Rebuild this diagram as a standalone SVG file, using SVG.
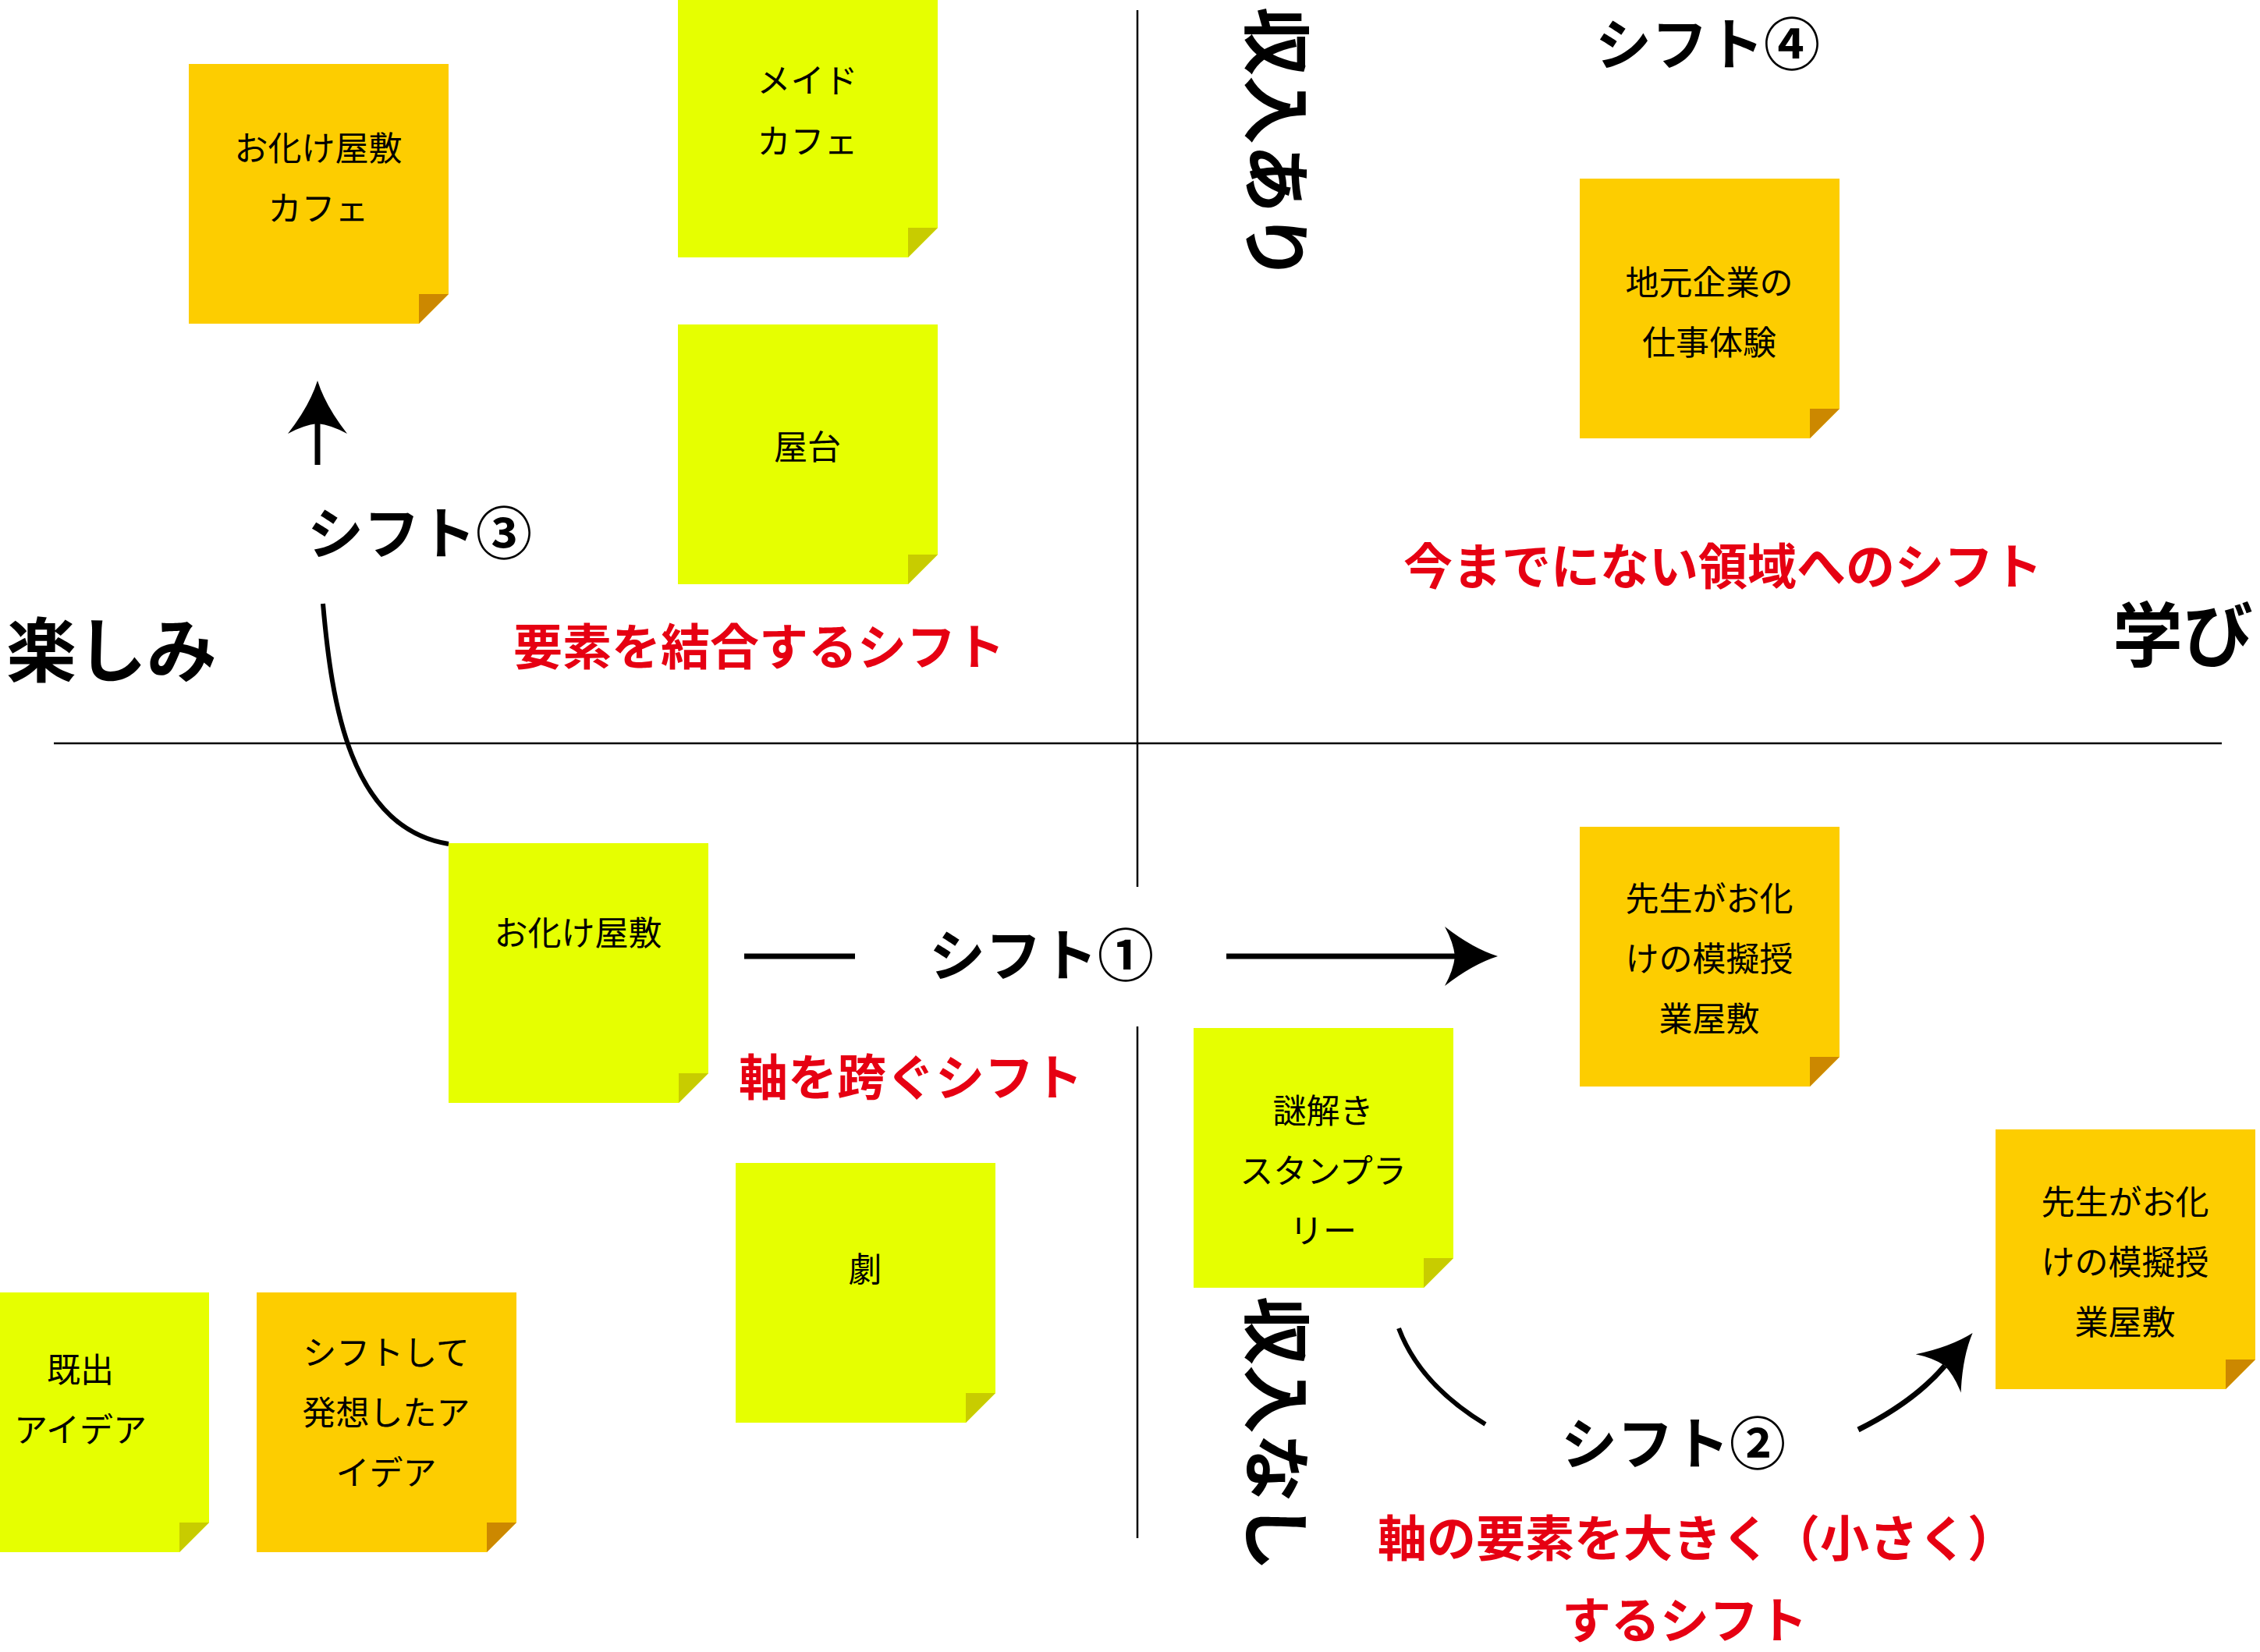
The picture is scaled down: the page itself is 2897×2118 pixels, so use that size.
<svg xmlns="http://www.w3.org/2000/svg" xmlns:xlink="http://www.w3.org/1999/xlink" width="2897" height="2118" viewBox="0 0 2897 2118">
<style>
.bodyO{fill:#FDCD00}
.foldO{fill:#CC8800}
.bodyY{fill:#E6FF00}
.foldY{fill:#C8CC00}
.nt{font-family:"Noto Sans CJK JP","Noto Sans CJK SC",sans-serif;font-size:43px;text-anchor:middle;fill:#000}
.lbl{font-family:"Noto Sans CJK JP","Noto Sans CJK SC",sans-serif;font-weight:700;fill:#000}
.red{font-family:"Noto Sans CJK JP","Noto Sans CJK SC",sans-serif;font-weight:700;font-size:63px;fill:#E60012}
.axis{stroke:#000;stroke-width:2.5;fill:none}
.conn{stroke:#000;fill:none}
</style>
<defs>
<g id="noteO"><polygon class="bodyO" points="0,0 333,0 333,295 295,333 0,333"/><polygon class="foldO" points="295,295 333,295 295,333"/></g>
<g id="noteY"><polygon class="bodyY" points="0,0 333,0 333,295 295,333 0,333"/><polygon class="foldY" points="295,295 333,295 295,333"/></g>
<marker id="ah" markerUnits="userSpaceOnUse" viewBox="-15 -40 72 80" markerWidth="72" markerHeight="80" refX="0" refY="0" orient="auto" overflow="visible">
<path d="M55,0 Q23,-10 -13,-38 Q-2,-18 0,0 Q-2,18 -13,38 Q23,10 55,0 Z" fill="#000"/>
</marker>
</defs>

<g id="axes">
<path class="axis" d="M69,953 H2848"/>
<path class="axis" d="M1458,13 V1137"/>
<path class="axis" d="M1458,1316 V1972"/>
</g>

<g id="note-obake-cafe"><use xlink:href="#noteO" x="242" y="82"/>
<text class="nt" x="408" y="206">お化け屋敷</text><text class="nt" x="408" y="283">カフェ</text></g>
<g id="note-maid-cafe"><use xlink:href="#noteY" x="869" y="-3"/>
<text class="nt" x="1035" y="119">メイド</text><text class="nt" x="1035" y="197">カフェ</text></g>
<g id="note-yatai"><use xlink:href="#noteY" x="869" y="416"/>
<text class="nt" x="1035" y="589">屋台</text></g>
<g id="note-jimoto"><use xlink:href="#noteO" x="2025" y="229"/>
<text class="nt" x="2191" y="378">地元企業の</text><text class="nt" x="2191" y="455">仕事体験</text></g>
<g id="note-obake"><use xlink:href="#noteY" x="575" y="1081"/>
<text class="nt" x="741" y="1212">お化け屋敷</text></g>
<g id="note-geki"><use xlink:href="#noteY" x="943" y="1491"/>
<text class="nt" x="1109" y="1643">劇</text></g>
<g id="note-kishutsu"><use xlink:href="#noteY" x="-65" y="1657"/>
<text class="nt" x="103" y="1772">既出</text><text class="nt" x="103" y="1849">アイデア</text></g>
<g id="note-shift-idea"><use xlink:href="#noteO" x="329" y="1657"/>
<text class="nt" x="495" y="1750">シフトして</text><text class="nt" x="495" y="1827">発想したア</text><text class="nt" x="495" y="1904">イデア</text></g>
<g id="note-sensei-1"><use xlink:href="#noteO" x="2025" y="1060"/>
<text class="nt" x="2191" y="1168">先生がお化</text><text class="nt" x="2191" y="1245">けの模擬授</text><text class="nt" x="2191" y="1322">業屋敷</text></g>
<g id="note-sensei-2"><use xlink:href="#noteO" x="2558" y="1448"/>
<text class="nt" x="2724" y="1557">先生がお化</text><text class="nt" x="2724" y="1634">けの模擬授</text><text class="nt" x="2724" y="1711">業屋敷</text></g>
<g id="note-nazotoki"><use xlink:href="#noteY" x="1530" y="1318"/>
<text class="nt" x="1696" y="1440">謎解き</text><text class="nt" x="1696" y="1517">スタンプラ</text><text class="nt" x="1696" y="1594">リー</text></g>

<g id="labels">
<text class="lbl" x="8" y="867" font-size="90">楽しみ</text>
<text class="lbl" x="2888" y="847" font-size="90" text-anchor="end">学び</text>
<text class="lbl" font-size="88" text-anchor="middle" transform="translate(1604,185) rotate(90)">収入あり</text>
<text class="lbl" font-size="88" text-anchor="middle" transform="translate(1604,1838) rotate(90)">収入なし</text>
<text class="lbl" x="2045" y="83" font-size="72">シフト④</text>
<text class="lbl" x="394" y="710" font-size="72">シフト③</text>
<text class="lbl" x="1191" y="1251" font-size="72">シフト①</text>
<text class="lbl" x="2001" y="1877" font-size="72">シフト②</text>
<text class="red" x="658" y="852">要素を結合するシフト</text>
<text class="red" x="1799" y="749">今までにない領域へのシフト</text>
<text class="red" x="947" y="1404">軸を跨ぐシフト</text>
<text class="red" x="1766" y="1995">軸の要素を大きく（小さく）</text>
<text class="red" x="2002" y="2100">するシフト</text>
</g>

<g id="connectors">
<path class="conn" stroke-width="7" d="M407,596 V543" marker-end="url(#ah)"/>
<path class="conn" stroke-width="6" d="M575,1082 C448,1062 425,900 414,774"/>
<path class="conn" stroke-width="7" d="M954,1226 H1096"/>
<path class="conn" stroke-width="7" d="M1572,1226 H1865" marker-end="url(#ah)"/>
<path class="conn" stroke-width="6" d="M1793,1703 Q1820,1775 1904,1826"/>
<path class="conn" stroke-width="7" d="M2382,1833 Q2454,1797 2493,1751" marker-end="url(#ah)"/>
</g>
</svg>
